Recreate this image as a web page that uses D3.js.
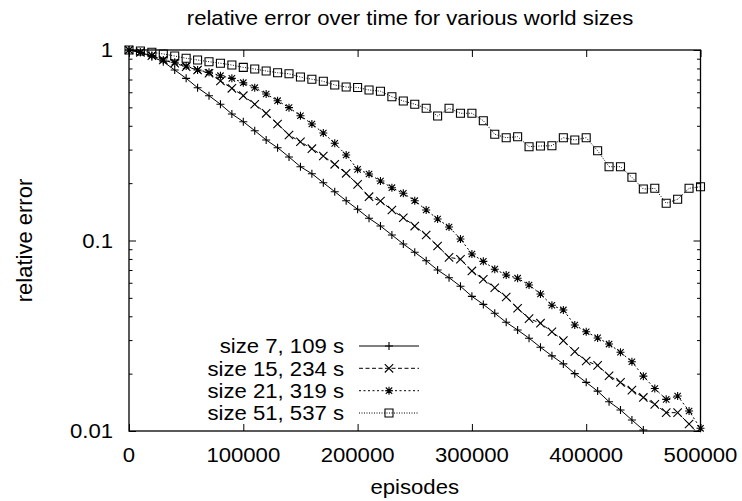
<!DOCTYPE html>
<html><head><meta charset="utf-8">
<script src="https://cdn.jsdelivr.net/npm/d3@7"></script>
<style>
body{margin:0;background:#fff}
svg{display:block}
text{font-family:"Liberation Sans",Arial,Helvetica,sans-serif;fill:#000}
</style>
</head><body>
<svg id="c" width="742" height="501"></svg>
<script>
// ---------- data ----------
const title = "relative error over time for various world sizes";
const xLabel = "episodes";
const yLabel = "relative error";
const xTicks = [0, 100000, 200000, 300000, 400000, 500000];
const xTickLabels = ["0", "100000", "200000", "300000", "400000", "500000"];
const yTicks = [1, 0.1, 0.01];
const yTickLabels = ["1", "0.1", "0.01"];
const seriesNames = ["size 7, 109 s", "size 15, 234 s", "size 21, 319 s", "size 51, 537 s"];

const episodes = [0,10000,20000,30000,40000,50000,60000,70000,80000,90000,
  100000,110000,120000,130000,140000,150000,160000,170000,180000,190000,
  200000,210000,220000,230000,240000,250000,260000,270000,280000,290000,
  300000,310000,320000,330000,340000,350000,360000,370000,380000,390000,
  400000,410000,420000,430000,440000,450000,460000,470000,480000,490000,500000];

const size7 = [1,0.9726,0.922,0.868,0.785,0.710,0.634,0.5755,0.519,0.4613,
  0.4203,0.3771,0.337,0.307,0.2744,0.244,0.2242,0.201,0.1804,0.1618,
  0.1458,0.1308,0.1191,0.1069,0.0958,0.0867,0.0783,0.0700,0.0638,0.0575,
  0.0509,0.0462,0.0415,0.0372,0.0339,0.0307,0.0275,0.0248,0.0225,0.0200,
  0.0180,0.0162,0.01425,0.0129,0.01142,0.01012];

const size15 = [1,0.9726,0.933,0.886,0.852,0.817,0.785,0.755,0.6876,0.6295,
  0.5755,0.519,0.4653,0.4089,0.3579,0.330,0.3033,0.2777,0.2512,0.2253,
  0.1972,0.1698,0.1612,0.1446,0.1317,0.1191,0.1069,0.0936,0.0816,0.0797,
  0.0692,0.0626,0.0565,0.0505,0.0441,0.0389,0.0368,0.0332,0.0298,0.0261,
  0.0233,0.0221,0.0195,0.0180,0.0164,0.0150,0.0138,0.01248,0.01248,0.01088,0.0094];

const size21 = [1,0.9726,0.936,0.886,0.862,0.824,0.785,0.7637,0.733,0.710,
  0.6736,0.634,0.5875,0.5418,0.4981,0.4518,0.4089,0.3667,0.3237,0.2811,
  0.2364,0.2234,0.2053,0.1893,0.1769,0.1618,0.1446,0.1297,0.1177,0.1018,
  0.0849,0.0777,0.0707,0.0659,0.0634,0.0584,0.0524,0.0457,0.0432,0.0360,
  0.0332,0.0308,0.0286,0.0259,0.0231,0.0194,0.0167,0.01466,0.01527,0.01274,0.01033];

const size51 = [1,0.988,0.9726,0.953,0.930,0.9046,0.886,0.868,0.852,0.834,
  0.811,0.795,0.776,0.760,0.750,0.7214,0.7023,0.685,0.655,0.6393,
  0.6354,0.6166,0.6077,0.5686,0.5397,0.5194,0.4943,0.4502,0.4943,0.4653,
  0.4653,0.4254,0.361,0.3464,0.3506,0.3108,0.3134,0.3145,0.3464,0.337,
  0.3464,0.296,0.244,0.244,0.2147,0.1863,0.1879,0.1568,0.1646,0.1879,0.1916];

// ---------- layout / styles ----------
const W = 742, H = 501;
const L = 129, R = 700.5, T = 50, B = 431;
const SX = 1.08;          // horizontal stretch of the original raster text
const FS = 20.5;
const dashes = [null, "4,2.5", "2,2.5", "1,1.5"];
const markers = ["plus", "cross", "star", "box"];

const svg = d3.select("#c");
const x = d3.scaleLinear().domain([0, 500000]).range([L, R]);
const y = d3.scaleLog().domain([0.01, 1]).range([B, T]);

function txt(g, px, py, s, anchor, fs) {
  return g.append("text")
    .attr("transform", `translate(${px},${py}) scale(${SX},1)`)
    .attr("text-anchor", anchor)
    .style("font-size", (fs || FS) + "px")
    .text(s);
}

// clip
svg.append("clipPath").attr("id", "clip")
  .append("rect").attr("x", L).attr("y", T).attr("width", R - L).attr("height", B - T);

// ---------- axes (gnuplot style inward ticks on all sides) ----------
const major = 7, minor = 3.5;
const minorVals = [];
[0.01, 0.1].forEach(d => { for (let k = 2; k <= 9; k++) minorVals.push(d * k); });

svg.append("g").attr("transform", `translate(0,${B})`)
  .call(d3.axisBottom(x).tickValues(xTicks).tickSize(-major).tickFormat(""))
  .call(g => g.select(".domain").remove());
svg.append("g").attr("transform", `translate(0,${T})`)
  .call(d3.axisTop(x).tickValues(xTicks).tickSize(-major).tickFormat(""))
  .call(g => g.select(".domain").remove());
svg.append("g").attr("transform", `translate(${L},0)`)
  .call(d3.axisLeft(y).tickValues(yTicks).tickSize(-major).tickFormat(""))
  .call(g => g.select(".domain").remove());
svg.append("g").attr("transform", `translate(${L},0)`)
  .call(d3.axisLeft(y).tickValues(minorVals).tickSize(-minor).tickFormat(""))
  .call(g => g.select(".domain").remove());
svg.append("g").attr("transform", `translate(${R},0)`)
  .call(d3.axisRight(y).tickValues(yTicks).tickSize(-major).tickFormat(""))
  .call(g => g.select(".domain").remove());
svg.append("g").attr("transform", `translate(${R},0)`)
  .call(d3.axisRight(y).tickValues(minorVals).tickSize(-minor).tickFormat(""))
  .call(g => g.select(".domain").remove());
svg.selectAll(".tick line").attr("stroke", "#000").attr("stroke-width", 1);

svg.append("rect").attr("x", L).attr("y", T).attr("width", R - L).attr("height", B - T)
  .attr("fill", "none").attr("stroke", "#000").attr("stroke-width", 1.3);

// tick labels
const lab = svg.append("g");
xTicks.forEach((t, i) => txt(lab, x(t), 462, xTickLabels[i], "middle"));
yTicks.forEach((t, i) => txt(lab, 113, y(t) + 7.3, yTickLabels[i], "end"));

// titles
txt(svg, 410, 25, title, "middle");
txt(svg, (L + R) / 2, 494, xLabel, "middle");
svg.append("text")
  .attr("transform", `translate(31.5,${(T + B) / 2}) rotate(-90)`)
  .attr("text-anchor", "middle").style("font-size", "22px").text(yLabel);

// ---------- markers ----------
function drawMarker(g, type, cx, cy) {
  const h = 4;
  const p = d3.path();
  if (type === "plus" || type === "star") {
    p.moveTo(cx - h, cy); p.lineTo(cx + h, cy);
    p.moveTo(cx, cy - h); p.lineTo(cx, cy + h);
  }
  if (type === "cross" || type === "star") {
    const k = type === "star" ? 3.2 : 4.2;
    p.moveTo(cx - k, cy - k); p.lineTo(cx + k, cy + k);
    p.moveTo(cx - k, cy + k); p.lineTo(cx + k, cy - k);
  }
  if (type === "box") {
    p.rect(cx - 4, cy - 4, 8, 8);
  }
  g.append("path").attr("d", p.toString()).attr("fill", "none")
    .attr("stroke", "#000").attr("stroke-width", 1.1);
}

// ---------- series ----------
const allSeries = [size7, size15, size21, size51];
const line = d3.line().x(d => x(d[0])).y(d => y(d[1]));
const plot = svg.append("g");
allSeries.forEach((vals, si) => {
  const pts = vals.map((v, i) => [episodes[i], v]);
  plot.append("path").attr("clip-path", "url(#clip)")
    .attr("d", line(pts)).attr("fill", "none").attr("stroke", "#000")
    .attr("stroke-width", 1).attr("stroke-dasharray", dashes[si]);
  const mg = plot.append("g");
  pts.forEach(p => {
    if (p[1] >= 0.0099 && p[1] <= 1.0001) drawMarker(mg, markers[si], x(p[0]), y(p[1]));
  });
});

// ---------- legend ----------
const leg = svg.append("g");
const rowY = [346, 368.3, 390.7, 413];
seriesNames.forEach((name, i) => {
  txt(leg, 344, rowY[i] + 7.3, name, "end");
  leg.append("line").attr("x1", 359).attr("x2", 419).attr("y1", rowY[i]).attr("y2", rowY[i])
    .attr("stroke", "#000").attr("stroke-width", 1).attr("stroke-dasharray", dashes[i]);
  drawMarker(leg, markers[i], 389, rowY[i]);
});
</script>
</body></html>
